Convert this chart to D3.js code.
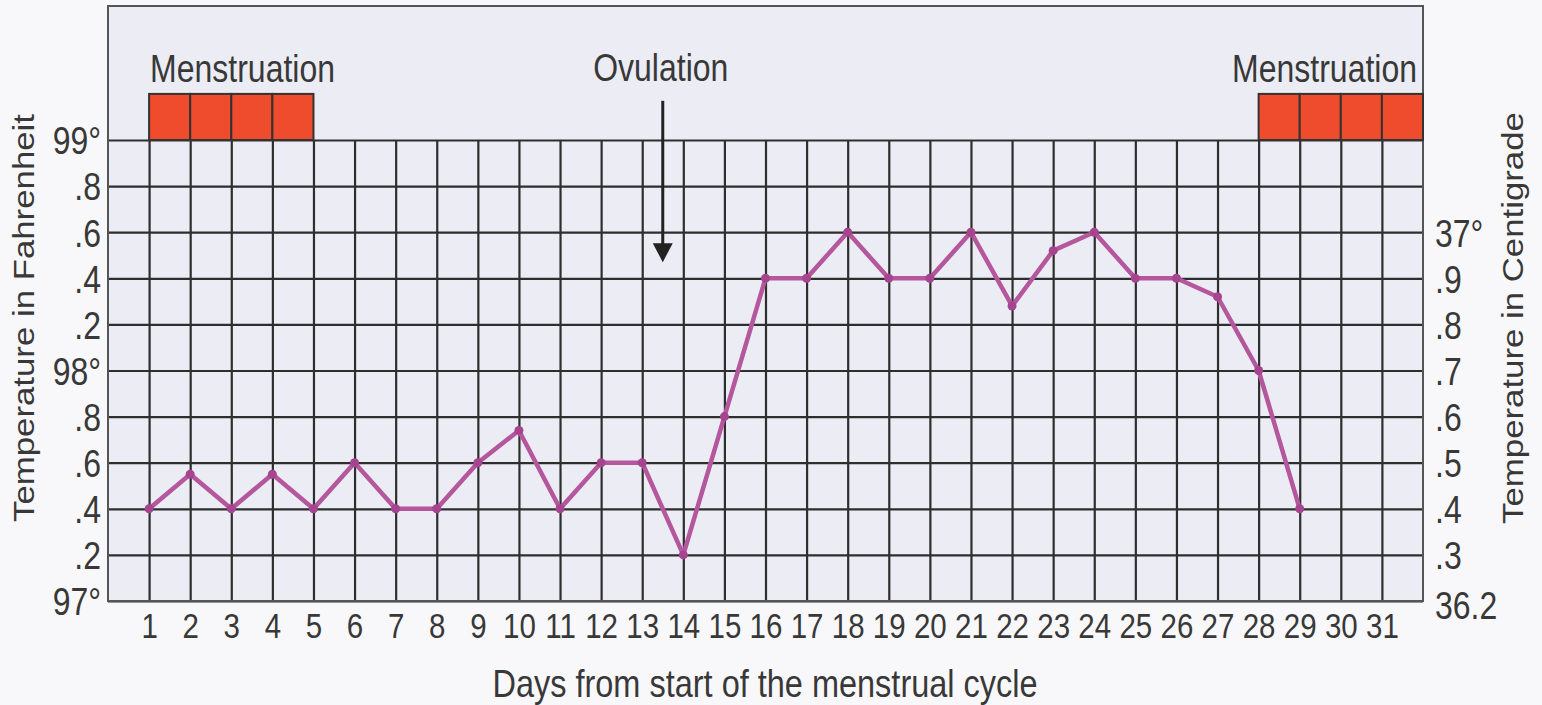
<!DOCTYPE html>
<html lang="en">
<head>
    <meta charset="UTF-8">
    <title>Basal body temperature chart</title>

    <script src="https://d3js.org/d3.v7.min.js"></script>

    <style>
        body {
            margin: 0;
            background: #f8f8fa;
        }

        svg {
            display: block;
            font-family: "Liberation Sans", Arial, sans-serif;
        }

        .label {
            fill: #383838;
        }
    </style>

    <script>

        // days of the cycle with a reading and the temperature in Fahrenheit
        let cycleDays = [1, 2, 3, 4, 5, 6, 7, 8, 9, 10, 11, 12, 13, 14, 15,
            16, 17, 18, 19, 20, 21, 22, 23, 24, 25, 26, 27, 28, 29];
        let tempF = [97.4, 97.55, 97.4, 97.55, 97.4, 97.6, 97.4, 97.4, 97.6, 97.74,
            97.4, 97.6, 97.6, 97.2, 97.8, 98.4, 98.4, 98.6, 98.4, 98.4,
            98.6, 98.28, 98.52, 98.6, 98.4, 98.4, 98.32, 98.0, 97.4];

        let dayTicks = [1, 2, 3, 4, 5, 6, 7, 8, 9, 10, 11, 12, 13, 14, 15, 16,
            17, 18, 19, 20, 21, 22, 23, 24, 25, 26, 27, 28, 29, 30, 31];

        let fTicks = [97, 97.2, 97.4, 97.6, 97.8, 98, 98.2, 98.4, 98.6, 98.8, 99];
        let fLabels = ["97°", ".2", ".4", ".6", ".8", "98°", ".2", ".4", ".6", ".8", "99°"];

        let cTicks = [36.2, 36.3, 36.4, 36.5, 36.6, 36.7, 36.8, 36.9, 37];
        let cLabels = ["36.2", ".3", ".4", ".5", ".6", ".7", ".8", ".9", "37°"];

        // first day of each shaded cell
        let menstruationStart = [1, 2, 3, 4];
        let menstruationEnd = [28, 29, 30, 31];
        let ovulationDay = 13.5;

        const SY = 1.2;   // text in the picture is drawn a bit tall and narrow

        document.addEventListener("DOMContentLoaded", function() {
            const width = 1542;
            const height = 705;

            const left = 108, right = 1423, top = 6, gridTop = 140, bottom = 601;

            const svg = d3.select("svg").attr("width", width).attr("height", height);

            const x = d3.scaleLinear().domain([0, 32]).range([left, right]);
            const y = d3.scaleLinear().domain([97, 99]).range([bottom, gridTop]);
            // the centigrade labels sit on the Fahrenheit grid lines
            const yC = d3.scaleLinear().domain([36.2, 37]).range([y(97), y(98.6)]);

            svg.append("rect")
                .attr("x", left).attr("y", top)
                .attr("width", right - left).attr("height", bottom - top)
                .attr("fill", "#ececf4");

            // vertical grid lines + day labels
            const xAxis = svg.append("g")
                .attr("transform", `translate(0,${bottom})`)
                .call(d3.axisBottom(x).tickValues(dayTicks).tickSize(-(bottom - gridTop)).tickPadding(0));

            xAxis.select(".domain").remove();
            xAxis.selectAll("line").attr("stroke", "#2e2e2e").attr("stroke-width", 2.2);
            xAxis.selectAll("text")
                .attr("class", "label")
                .attr("y", 0).attr("dy", 0)
                .attr("transform", `translate(0,37) scale(1,${SY})`)
                .attr("font-size", 29.5);

            // horizontal grid lines + Fahrenheit labels
            const yAxis = svg.append("g")
                .attr("transform", `translate(${left},0)`)
                .call(d3.axisLeft(y).tickValues(fTicks)
                    .tickFormat(function(d, i) { return fLabels[i]; })
                    .tickSize(-(right - left)).tickPadding(7));

            yAxis.select(".domain").remove();
            yAxis.selectAll("line").attr("stroke", "#2e2e2e").attr("stroke-width", 2.2);
            yAxis.selectAll("text")
                .attr("class", "label")
                .attr("dy", "0.36em")
                .attr("transform", `scale(1,${SY})`)
                .attr("font-size", 32);

            // centigrade labels on the right
            const cAxis = svg.append("g")
                .attr("transform", `translate(${right},0)`)
                .call(d3.axisRight(yC).tickValues(cTicks)
                    .tickFormat(function(d, i) { return cLabels[i]; })
                    .tickSize(0).tickPadding(12));

            cAxis.select(".domain").remove();
            cAxis.selectAll("text")
                .attr("class", "label")
                .attr("dy", "0.36em")
                .attr("transform", `scale(1,${SY})`)
                .attr("font-size", 32);
            cAxis.selectAll(".tick").filter(function(d) { return d === 36.2; })
                .select("text").attr("dy", "0.45em");

            // outer frame
            svg.append("rect")
                .attr("x", left).attr("y", top)
                .attr("width", right - left).attr("height", bottom - top)
                .attr("fill", "none")
                .attr("stroke", "#555")
                .attr("stroke-width", 2);

            // menstruation cells
            svg.append("g")
                .selectAll("rect")
                .data(menstruationStart.concat(menstruationEnd))
                .join("rect")
                .attr("x", function(d) { return x(d); })
                .attr("y", y(99.2))
                .attr("width", function(d) { return x(d + 1) - x(d); })
                .attr("height", y(99) - y(99.2))
                .attr("fill", "#ef4b2d")
                .attr("stroke", "#333")
                .attr("stroke-width", 2);

            function stretchedText(tx, ty, str, size, anchor) {
                svg.append("text")
                    .attr("class", "label")
                    .attr("transform", `translate(${tx},${ty}) scale(1,${SY})`)
                    .attr("text-anchor", anchor)
                    .attr("font-size", size)
                    .text(str);
            }

            stretchedText(x(1) + 1, 82, "Menstruation", 32, "start");
            stretchedText(right - 6, 82, "Menstruation", 32, "end");
            stretchedText(x(ovulationDay) - 2, 81, "Ovulation", 32, "middle");

            // ovulation arrow
            svg.append("line")
                .attr("x1", x(ovulationDay)).attr("x2", x(ovulationDay))
                .attr("y1", y(99.17)).attr("y2", y(98.52))
                .attr("stroke", "#222")
                .attr("stroke-width", 3);

            const tipY = y(98.47);
            svg.append("path")
                .attr("d", `M${x(ovulationDay) - 10},${tipY - 19}L${x(ovulationDay) + 10},${tipY - 19}L${x(ovulationDay)},${tipY}Z`)
                .attr("fill", "#222");

            // temperature line
            const data = cycleDays.map(function(d, i) { return {day: d, temp: tempF[i]}; });

            const line = d3.line()
                .x(function(d) { return x(d.day); })
                .y(function(d) { return y(d.temp); });

            svg.append("path")
                .datum(data)
                .attr("d", line)
                .attr("fill", "none")
                .attr("stroke", "#b5579d")
                .attr("stroke-width", 4.5)
                .attr("stroke-linejoin", "round");

            svg.append("g")
                .selectAll("circle")
                .data(data)
                .join("circle")
                .attr("cx", function(d) { return x(d.day); })
                .attr("cy", function(d) { return y(d.temp); })
                .attr("r", 4.5)
                .attr("fill", "#a6448f");

            // axis titles
            stretchedText(765, 697, "Days from start of the menstrual cycle", 32.5, "middle");

            const RS = 1.2;
            svg.append("text")
                .attr("class", "label")
                .attr("transform", `translate(34,318) scale(1,${RS}) rotate(-90)`)
                .attr("text-anchor", "middle")
                .attr("font-size", 29)
                .text("Temperature in Fahrenheit");

            svg.append("text")
                .attr("class", "label")
                .attr("transform", `translate(1523,318) scale(1,${RS}) rotate(-90)`)
                .attr("text-anchor", "middle")
                .attr("font-size", 29)
                .text("Temperature in Centigrade");
        });

    </script>
</head>
<body>
    <svg></svg>
</body>
</html>
